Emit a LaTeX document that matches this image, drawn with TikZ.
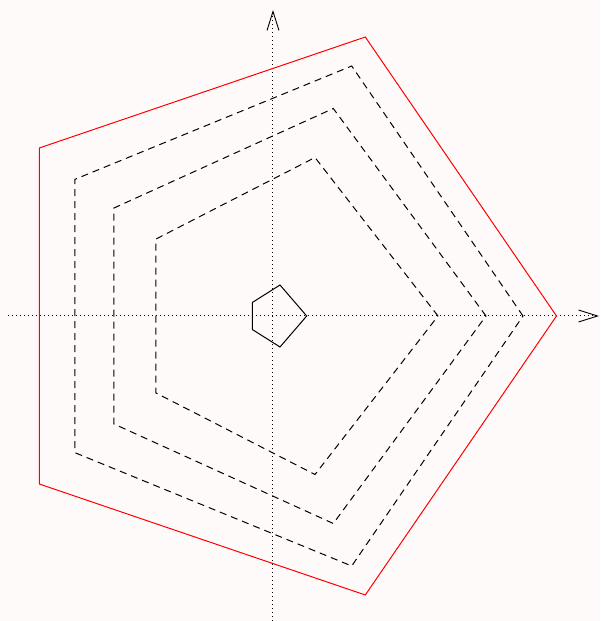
\documentclass[tikz,border=0pt]{standalone}
\usetikzlibrary{arrows.meta}
\definecolor{paper}{RGB}{255,250,250}
\definecolor{outline}{RGB}{255,0,0}
\tikzset{%
  axis/.style={line width=1pt, dash pattern=on 1pt off 3pt,
    -{Straight Barb[length=19pt,width=12pt,line width=0.9pt]}},% dotted axes
  level/.style={line width=1pt, dash pattern=on 7pt off 5pt},% dashed level sets
  border/.style={line width=1pt, outline},% outer pentagon
  core/.style={line width=1pt, black}% inner pentagon
}
% pentagon: right vertex, upper vertex, upper left corner (mirrored below)
\newcommand*{\pentagon}[6]{
  \draw[#1] (#2,0) -- (#3,#4) -- (#5,#6) -- (#5,-#6) -- (#3,-#4) -- cycle;}

\begin{document}
\begin{tikzpicture}[x=1pt, y=1pt]
\fill[paper] (-273,-305) rectangle (327,316);
\useasboundingbox (-273,-305) rectangle (327,316);

\coordinate (xstart) at (-265,0);
\coordinate (xend)   at (326,0);
\coordinate (ystart) at (0,-305);
\coordinate (yend)   at (0,306);

\draw[axis] (xstart) -- (xend);
\draw[axis] (ystart) -- (yend);

\pentagon{core}{33.7}{7}{31}{-20.7}{13.5}
\foreach \r/\tx/\ty/\lx/\ly in {165/42/158.5/-117/77,
                               213/60.3/207.5/-159/108,
                               250/78.7/250/-198/136.7}
  \pentagon{level}{\r}{\tx}{\ty}{\lx}{\ly};
\pentagon{border}{283.5}{92.3}{279}{-233.7}{168}

\end{tikzpicture}
\end{document}
